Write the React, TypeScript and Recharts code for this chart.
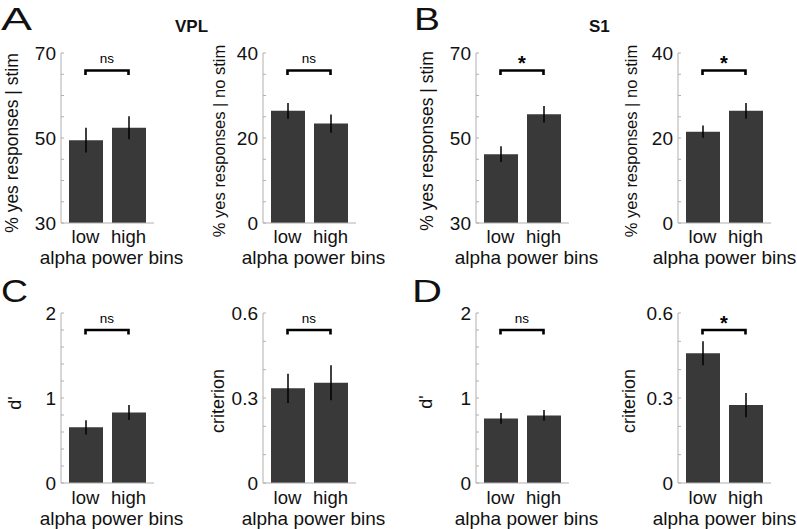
import React from 'react';
import { BarChart, Bar, XAxis, YAxis, ErrorBar, ReferenceLine } from 'recharts';

// ---------- data ----------
const bins = ['low', 'high'];

const stimVPL = [49.5, 52.4];
const stimVPLErr = [2.9, 2.7];
const noStimVPL = [26.4, 23.4];
const noStimVPLErr = [1.85, 2.15];

const stimS1 = [46.2, 55.6];
const stimS1Err = [1.85, 1.95];
const noStimS1 = [21.5, 26.4];
const noStimS1Err = [1.45, 1.85];

const dprimeVPL = [0.655, 0.83];
const dprimeVPLErr = [0.084, 0.088];
const criterionVPL = [0.334, 0.354];
const criterionVPLErr = [0.052, 0.062];

const dprimeS1 = [0.76, 0.795];
const dprimeS1Err = [0.063, 0.063];
const criterionS1 = [0.458, 0.275];
const criterionS1Err = [0.042, 0.043];

const stimTicks = [30, 35, 40, 45, 50, 55, 60, 65, 70];
const stimLabels = [30, 50, 70];
const noStimTicks = [0, 5, 10, 15, 20, 25, 30, 35, 40];
const noStimLabels = [0, 20, 40];
const dTicks = [0, 0.2, 0.4, 0.6, 0.8, 1, 1.2, 1.4, 1.6, 1.8, 2];
const dLabels = [0, 1, 2];
const critTicks = [0, 0.1, 0.2, 0.3, 0.4, 0.5, 0.6];
const critLabels = [0, 0.3, 0.6];

const panelLetters = ['A', 'B', 'C', 'D'];
const regionTitles = ['VPL', 'S1'];
const xLabel = 'alpha power bins';

// ---------- styling ----------
const FONT = '"Liberation Sans", Arial, Helvetica, sans-serif';
const BAR = '#393939';
const AXIS = '#b0b0b0';

const makeData = (vals: number[], errs: number[]) =>
  bins.map((b, i) => ({ bin: b, value: vals[i], err: errs[i] }));

const YTick = (props: any) => {
  const { x, y, payload, labels } = props;
  const v = payload.value;
  const show = labels.some((l: number) => Math.abs(l - v) < 1e-9);
  return (
    <g>
      <line x1={x} x2={x + 3} y1={y} y2={y} stroke={AXIS} strokeWidth={1} />
      {show && (
        <text x={x - 5} y={y} dy="0.36em" textAnchor="end" fontSize={19} fill="#111" fontFamily={FONT}>
          {String(v)}
        </text>
      )}
    </g>
  );
};

const BracketShape = (props: any) => {
  const { x1, y1, x2 } = props;
  if (x1 == null) return null;
  return (
    <path
      d={`M${x1},${y1 + 4.5} V${y1} H${x2} V${y1 + 4.5}`}
      fill="none"
      stroke="#000"
      strokeWidth={2.6}
    />
  );
};

type PanelProps = {
  left: number;
  top: number;
  height: number;
  xAxisHeight: number;
  tickMargin: number;
  labelOffset: number;
  labelDx: number;
  vals: number[];
  errs: number[];
  domain: [number, number];
  ticks: number[];
  labels: number[];
  bracket: number;
  sig: string;
};

const Panel = (p: PanelProps) => {
  const data = makeData(p.vals, p.errs);
  const star = p.sig === '*';
  return (
    <div style={{ position: 'absolute', left: p.left, top: p.top }}>
      <BarChart
        width={200}
        height={p.height}
        data={data}
        margin={{ top: 53, right: 47, bottom: 0, left: 20 }}
        style={{ fontFamily: FONT }}
      >
        <XAxis
          dataKey="bin"
          type="category"
          tickLine={false}
          tickSize={0}
          tickMargin={p.tickMargin}
          axisLine={{ stroke: AXIS, strokeWidth: 1 }}
          tick={{ fontSize: 18.5, fill: '#111', fontFamily: FONT }}
          padding={{ left: 3, right: 4 }}
          height={p.xAxisHeight}
          interval={0}
          label={{ value: xLabel, position: 'insideBottom', offset: p.labelOffset, dx: p.labelDx, fontSize: 19, fill: '#111', fontFamily: FONT }}
        />
        <YAxis
          type="number"
          domain={p.domain}
          ticks={p.ticks}
          interval={0}
          width={40}
          tickSize={0}
          tickMargin={0}
          tickLine={false}
          axisLine={{ stroke: AXIS, strokeWidth: 1 }}
          allowDataOverflow
          tick={(tp: any) => <YTick {...tp} labels={p.labels} />}
        />
        <Bar dataKey="value" fill={BAR} barSize={34} isAnimationActive={false}>
          <ErrorBar dataKey="err" width={0} stroke="#000" strokeWidth={1.5} direction="y" />
        </Bar>
        <ReferenceLine
          segment={[
            { x: 'low', y: p.bracket },
            { x: 'high', y: p.bracket },
          ]}
          ifOverflow="visible"
          shape={BracketShape}
          label={{
            value: p.sig,
            position: 'top',
            offset: star ? 0 : 7,
            fontSize: star ? 20 : 13.5,
            fontWeight: star ? 'bold' : 'normal',
            fill: '#000',
            fontFamily: FONT,
          }}
        />
      </BarChart>
    </div>
  );
};

const row1 = { top: 0, height: 270, xAxisHeight: 47, tickMargin: 7, labelOffset: 6 };
const row2 = { top: 260, height: 269, xAxisHeight: 46, tickMargin: 8, labelOffset: 4 };

const YLabel = ({ x, y, text, size }: { x: number; y: number; text: string; size: number }) => (
  <text
    transform={`translate(${x},${y}) rotate(-90)`}
    textAnchor="middle"
    dy="0.35em"
    fontSize={size}
    fill="#111"
    fontFamily={FONT}
  >
    {text}
  </text>
);

export default function App() {
  return (
    <div
      style={{
        position: 'absolute',
        left: 0,
        top: 0,
        width: 797,
        height: 529,
        background: '#fff',
        fontFamily: FONT,
        overflow: 'hidden',
      }}
    >
      <Panel left={1} {...row1} labelDx={4} vals={stimVPL} errs={stimVPLErr} domain={[30, 70]} ticks={stimTicks} labels={stimLabels} bracket={65.9} sig="ns" />
      <Panel left={203} {...row1} labelDx={4} vals={noStimVPL} errs={noStimVPLErr} domain={[0, 40]} ticks={noStimTicks} labels={noStimLabels} bracket={35.9} sig="ns" />
      <Panel left={416} {...row1} labelDx={4} vals={stimS1} errs={stimS1Err} domain={[30, 70]} ticks={stimTicks} labels={stimLabels} bracket={65.9} sig="*" />
      <Panel left={618} {...row1} labelDx={0} vals={noStimS1} errs={noStimS1Err} domain={[0, 40]} ticks={noStimTicks} labels={noStimLabels} bracket={35.9} sig="*" />

      <Panel left={1} {...row2} labelDx={4} vals={dprimeVPL} errs={dprimeVPLErr} domain={[0, 2]} ticks={dTicks} labels={dLabels} bracket={1.8} sig="ns" />
      <Panel left={203} {...row2} labelDx={4} vals={criterionVPL} errs={criterionVPLErr} domain={[0, 0.6]} ticks={critTicks} labels={critLabels} bracket={0.54} sig="ns" />
      <Panel left={416} {...row2} labelDx={4} vals={dprimeS1} errs={dprimeS1Err} domain={[0, 2]} ticks={dTicks} labels={dLabels} bracket={1.8} sig="ns" />
      <Panel left={618} {...row2} labelDx={0} vals={criterionS1} errs={criterionS1Err} domain={[0, 0.6]} ticks={critTicks} labels={critLabels} bracket={0.54} sig="*" />

      <svg
        width={797}
        height={529}
        style={{ position: 'absolute', left: 0, top: 0, pointerEvents: 'none' }}
      >
        <text x={1} y={30} fontSize={32} textLength={31} lengthAdjust="spacingAndGlyphs" fill="#111" fontFamily={FONT}>{panelLetters[0]}</text>
        <text x={414} y={30} fontSize={32} textLength={26} lengthAdjust="spacingAndGlyphs" fill="#111" fontFamily={FONT}>{panelLetters[1]}</text>
        <text x={1} y={302} fontSize={31} textLength={27} lengthAdjust="spacingAndGlyphs" fill="#111" fontFamily={FONT}>{panelLetters[2]}</text>
        <text x={412} y={302} fontSize={31} textLength={30} lengthAdjust="spacingAndGlyphs" fill="#111" fontFamily={FONT}>{panelLetters[3]}</text>

        <text x={175} y={32} fontSize={17} fontWeight="bold" fill="#111" fontFamily={FONT}>{regionTitles[0]}</text>
        <text x={589} y={32} fontSize={17} fontWeight="bold" fill="#111" fontFamily={FONT}>{regionTitles[1]}</text>

        <YLabel x={12} y={143} text="% yes responses | stim" size={17.5} />
        <YLabel x={219} y={141} text="% yes responses | no stim" size={16.5} />
        <YLabel x={427} y={141} text="% yes responses | stim" size={17.5} />
        <YLabel x={631} y={141} text="% yes responses | no stim" size={16.5} />
        <YLabel x={15} y={403} text="d'" size={18} />
        <YLabel x={218} y={401} text="criterion" size={18} />
        <YLabel x={426} y={402} text="d'" size={18} />
        <YLabel x={629} y={401} text="criterion" size={18} />
      </svg>
    </div>
  );
}
